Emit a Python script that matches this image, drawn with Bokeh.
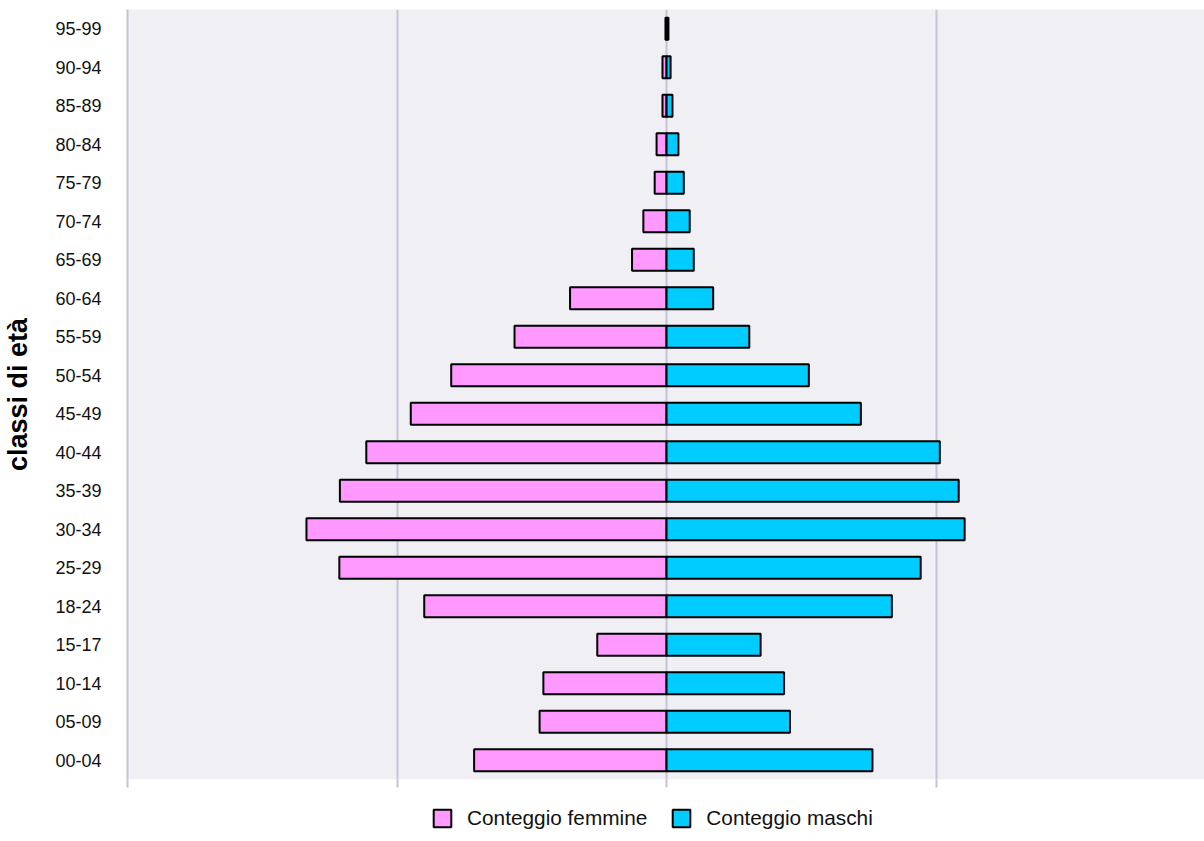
from bokeh.plotting import figure
from bokeh.layouts import column
from bokeh.models import FactorRange, Range1d, FixedTicker, Legend, LegendItem, ColumnDataSource
from bokeh.embed import file_html
from bokeh.resources import INLINE

# age classes, bottom to top
classes = ["00-04", "05-09", "10-14", "15-17", "18-24", "25-29", "30-34", "35-39",
           "40-44", "45-49", "50-54", "55-59", "60-64", "65-69", "70-74", "75-79",
           "80-84", "85-89", "90-94", "95-99"]
femmine = [714, 471, 457, 257, 899, 1214, 1336, 1212, 1114, 949, 799, 564, 358,
           128, 86, 44, 37, 15, 15, 4]
maschi = [764, 458, 436, 349, 836, 943, 1106, 1084, 1014, 721, 528, 307, 173,
          101, 86, 64, 44, 22, 15, 7]
series_labels = ["Conteggio femmine", "Conteggio maschi"]
x_ticks = [-2000, -1000, 0, 1000]

FONT = "Liberation Sans"
GRID = "#c4c4d4"
PINK = "#ff99ff"
CYAN = "#00ccff"

src = ColumnDataSource(dict(
    cls=classes,
    f_left=[-v for v in femmine],
    zero=[0] * len(classes),
    m_right=maschi,
))

p = figure(
    y_range=FactorRange(*classes, range_padding=0),
    x_range=Range1d(-2000, 1996),
    width=1204, height=795,
    min_border_left=125, min_border_right=0, min_border_top=9, min_border_bottom=16,
    output_backend="svg", toolbar_location=None,
    background_fill_color="#efeff4", border_fill_color="white",
)
p.outline_line_color = None

p.hbar(y="cls", left="f_left", right="zero", height=0.57, source=src,
       fill_color=PINK, line_color="black", line_width=2)
p.hbar(y="cls", left="zero", right="m_right", height=0.57, source=src,
       fill_color=CYAN, line_color="black", line_width=2)

# x axis: ticks only, no labels
p.xaxis.ticker = FixedTicker(ticks=x_ticks)
p.xaxis.major_label_overrides = {t: "" for t in x_ticks}
p.xaxis.major_label_text_font_size = "1px"
p.xaxis.major_label_standoff = 0
p.xaxis.axis_line_color = None
p.xaxis.major_tick_in = 0
p.xaxis.major_tick_out = 8
p.xaxis.minor_tick_out = 0
p.xaxis.minor_tick_in = 0
p.xaxis.major_tick_line_color = GRID
p.xaxis.major_tick_line_width = 2
p.xaxis.minor_tick_line_color = None

p.xgrid.ticker = FixedTicker(ticks=x_ticks)
p.xgrid.grid_line_color = GRID
p.xgrid.grid_line_width = 2
p.ygrid.grid_line_color = None

# y axis
p.yaxis.axis_label = "classi di età"
p.yaxis.axis_label_text_font = FONT
p.yaxis.axis_label_text_font_style = "bold"
p.yaxis.axis_label_text_font_size = "27px"
p.yaxis.axis_label_text_color = "black"
p.yaxis.axis_label_standoff = 19
p.yaxis.major_label_text_font = FONT
p.yaxis.major_label_text_font_size = "18px"
p.yaxis.major_label_text_color = "#111111"
p.yaxis.major_label_standoff = 26
p.yaxis.axis_line_color = GRID
p.yaxis.axis_line_width = 2
p.yaxis.major_tick_out = 0
p.yaxis.major_tick_in = 0
p.yaxis.minor_tick_out = 0
p.yaxis.minor_tick_in = 0
p.yaxis.major_tick_line_color = None
p.yaxis.minor_tick_line_color = None

# legend strip below the chart (frames are aligned with the main chart's frame)
pl = figure(
    width=1204, height=45,
    x_range=Range1d(0, 1000), y_range=Range1d(0, 45),
    x_axis_location=None, y_axis_location=None,
    min_border_left=0, min_border_right=0, min_border_top=0, min_border_bottom=0,
    output_backend="svg", toolbar_location=None,
    background_fill_color="white", border_fill_color="white",
)
pl.outline_line_color = None
pl.grid.visible = False
# legend proxies: one row kept outside the strip's visible range
proxy = ColumnDataSource(dict(y=[-100], left=[0], right=[0]))
lf = pl.hbar(y="y", left="left", right="right", height=1, source=proxy,
             fill_color=PINK, line_color="black", line_width=2)
lm = pl.hbar(y="y", left="left", right="right", height=1, source=proxy,
             fill_color=CYAN, line_color="black", line_width=2)

legend = Legend(
    items=[LegendItem(label=series_labels[0], renderers=[lf]),
           LegendItem(label=series_labels[1], renderers=[lm])],
    orientation="horizontal", location=(304, 10),
    label_text_font=FONT, label_text_font_size="20.8px", label_text_color="#111111",
    glyph_width=22, glyph_height=22, label_standoff=14, spacing=23,
    padding=0, margin=0, border_line_color=None, background_fill_alpha=0,
)
pl.add_layout(legend, "center")

layout = column(p, pl, spacing=0)
open("out.html", "w").write(file_html(layout, INLINE))
